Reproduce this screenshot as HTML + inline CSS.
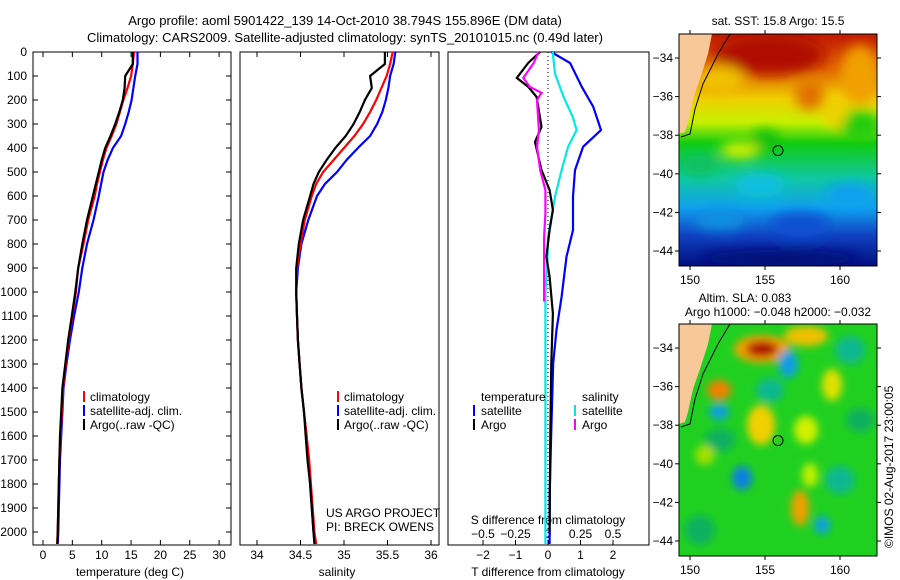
<!DOCTYPE html>
<html><head><meta charset="utf-8"><style>
body{margin:0;background:#fff;}
svg{display:block;font-family:"Liberation Sans",sans-serif;font-size:12px;}
</style></head><body>
<svg id="fig" width="900" height="580" viewBox="0 0 900 580">
<defs>
<filter id="bl" x="-50%" y="-50%" width="200%" height="200%"><feGaussianBlur stdDeviation="6"/></filter>
<filter id="bl2" x="-50%" y="-50%" width="200%" height="200%"><feGaussianBlur stdDeviation="4"/></filter>
<clipPath id="c1"><rect x="679" y="34" width="198" height="232"/></clipPath>
<clipPath id="c2"><rect x="679" y="324" width="198" height="232"/></clipPath>
<linearGradient id="sstg" x1="0" y1="0" x2="0" y2="1">
<stop offset="0" stop-color="#c01800"/><stop offset="0.15" stop-color="#e06000"/><stop offset="0.28" stop-color="#f0d000"/><stop offset="0.38" stop-color="#c8f000"/><stop offset="0.47" stop-color="#10cc10"/><stop offset="0.62" stop-color="#10c8a0"/><stop offset="0.75" stop-color="#10a0f0"/><stop offset="0.87" stop-color="#1040c0"/><stop offset="1" stop-color="#001080"/>
</linearGradient>
</defs>
<text x="345" y="25" text-anchor="middle" font-size="13">Argo profile: aoml 5901422_139 14-Oct-2010 38.794S 155.896E (DM data)</text>
<text x="345" y="42" text-anchor="middle" font-size="13">Climatology: CARS2009. Satellite-adjusted climatology: synTS_20101015.nc (0.49d later)</text>
<g id="p1"></g>
<g id="p2"></g>
<g id="p3"></g>
<g id="m1"></g>
<g id="m2"></g>
</svg>
<script>
const depths=[0,50,100,150,200,250,300,350,400,450,500,550,600,700,800,900,1000,1100,1200,1300,1400,1500,1600,1700,1800,1900,2000,2050];
const tempClim=[15.5,15.3,15.0,14.4,13.7,13.1,12.5,11.7,10.8,10.2,9.7,9.2,8.8,7.7,6.9,6.0,5.6,5.0,4.4,3.9,3.4,3.2,3.0,2.8,2.7,2.6,2.5,2.4];
const tempSat=[16.1,16.1,15.7,15.4,15.1,14.6,14.0,13.3,11.9,11.0,10.3,9.9,9.5,8.6,7.5,6.7,6.1,5.3,4.6,4.0,3.5,3.3,3.1,2.9,2.8,2.7,2.6,2.5];
const tempArgo=[15.3,15.3,14.0,13.9,13.6,13.0,12.3,11.5,10.6,10.0,9.5,9.0,8.5,7.5,6.7,6.0,5.5,4.9,4.3,3.8,3.3,3.1,2.9,2.8,2.7,2.6,2.5,2.45];
const salClim=[35.56,35.53,35.49,35.43,35.37,35.3,35.22,35.12,35.0,34.88,34.76,34.68,34.63,34.55,34.5,34.46,34.45,34.46,34.47,34.49,34.51,34.54,34.57,34.6,34.62,34.64,34.66,34.68];
const salSat=[35.59,35.57,35.53,35.51,35.48,35.44,35.38,35.3,35.16,35.03,34.92,34.78,34.69,34.59,34.51,34.47,34.45,34.46,34.47,34.49,34.51,34.54,34.57,34.59,34.61,34.63,34.65,34.67];
const salArgo=[35.47,35.47,35.3,35.32,35.24,35.18,35.11,35.02,34.9,34.8,34.71,34.65,34.61,34.53,34.48,34.45,34.45,34.46,34.47,34.49,34.51,34.54,34.56,34.58,34.61,34.63,34.65,34.66];
const dTSatDepth=[0,46,145,228,325,395,492,603,742,853,1020,1158,1297,1575,1854,2050];
const dTSat=[0.1,0.68,1.04,1.39,1.63,1.08,0.83,0.77,0.77,0.57,0.42,0.26,0.16,0.1,0.05,0.05];
const dTArgoDepth=[0,46,108,145,187,312,375,492,575,658,742,853,937,1090,1297,1600,2000];
const dTArgo=[-0.25,-0.61,-0.96,-0.61,-0.35,-0.2,-0.4,-0.2,0.05,0.15,0.05,-0.05,0.05,0.15,0.1,0.07,0.05];
const dSSatDepth=[0,90,187,270,325,395,492,603,770,880,1000,1500,2050];
const dSSat=[0.036,0.054,0.12,0.19,0.22,0.155,0.105,0.054,0,-0.005,-0.02,-0.02,-0.02];
const dSArgoDepth=[0,46,108,145,170,200,325,395,492,575,672,770,978,1040];
const dSArgo=[-0.074,-0.11,-0.19,-0.14,-0.05,-0.085,-0.07,-0.085,-0.06,-0.02,-0.02,-0.03,-0.03,-0.03];
const depthTicks=[0,100,200,300,400,500,600,700,800,900,1000,1100,1200,1300,1400,1500,1600,1700,1800,1900,2000];
const tempTicks=[0,5,10,15,20,25,30];
const salTicks=[34,34.5,35,35.5,36];
const dTTicks=[-2,-1,0,1,2];
const dSTicks=[-0.5,-0.25,0,0.25,0.5];
const dSTickLabels=["\u22120.5","\u22120.25","0","0.25","0.5"];

const NS='http://www.w3.org/2000/svg';
function mk(tag,attrs,parent,txt){const e=document.createElementNS(NS,tag);for(const k in attrs)e.setAttribute(k,attrs[k]);if(txt!==undefined)e.textContent=txt;parent.appendChild(e);return e;}
const Y=d=>52+d*0.24;
const TOP=52,BOT=545;
const xT=t=>43+5.87*t;
const xS=s=>257+87*(s-34);
const xdT=t=>548+32.5*t;
const xdS=s=>548+130*s;
function line(g,xs,ds,fx,col,name,w){
  const pts=xs.map((v,i)=>fx(v).toFixed(1)+','+Y(ds[i]).toFixed(1)).join(' ');
  const p=mk('polyline',{points:pts,fill:'none',stroke:col,'stroke-width':w||2.2},g);
  
  
}
function frame(g,x0,x1,name){
  const r=mk('rect',{x:x0,y:TOP,width:x1-x0,height:BOT-TOP,fill:'none',stroke:'#000','stroke-width':1},g);
  
  
}
const p1=document.getElementById('p1');
frame(p1,33,231,'temperature-plot-frame');
depthTicks.forEach(d=>{
  mk('line',{x1:33,x2:38,y1:Y(d),y2:Y(d),stroke:'#000'},p1);
  mk('line',{x1:226,x2:231,y1:Y(d),y2:Y(d),stroke:'#000'},p1);
  const t=mk('text',{x:27,y:Y(d)+4,'text-anchor':'end'},p1,String(d));
  
  
});
tempTicks.forEach(v=>{
  mk('line',{x1:xT(v),x2:xT(v),y1:BOT,y2:BOT-5,stroke:'#000'},p1);
  mk('line',{x1:xT(v),x2:xT(v),y1:TOP,y2:TOP+5,stroke:'#000'},p1);
  const t=mk('text',{x:xT(v),y:559,'text-anchor':'middle'},p1,String(v));
  
  
});
mk('text',{x:130,y:576,'text-anchor':'middle',},p1,'temperature (deg C)');
line(p1,tempSat,depths,xT,'#0000ff','temperature-satellite-line');
line(p1,tempClim,depths,xT,'#ff0000','temperature-climatology-line');
line(p1,tempArgo,depths,xT,'#000','temperature-argo-line');
function legend(g,x,y){
  [['#ff0000','climatology'],['#0000ff','satellite-adj. clim.'],['#000','Argo(..raw -QC)']].forEach((l,i)=>{
    mk('rect',{x:x,y:y+i*14-10,width:2,height:11,fill:l[0]},g);
    const t=mk('text',{x:x+7,y:y+i*14},g,l[1]);
    
    
  });
}
legend(p1,83,401);
const p2=document.getElementById('p2');
frame(p2,240,439,'salinity-plot-frame');
salTicks.forEach(v=>{
  mk('line',{x1:xS(v),x2:xS(v),y1:BOT,y2:BOT-5,stroke:'#000'},p2);
  mk('line',{x1:xS(v),x2:xS(v),y1:TOP,y2:TOP+5,stroke:'#000'},p2);
  const t=mk('text',{x:xS(v),y:559,'text-anchor':'middle'},p2,String(v));
  
  
});
mk('text',{x:337,y:576,'text-anchor':'middle',},p2,'salinity');
line(p2,salSat,depths,xS,'#0000ff','salinity-satellite-line');
line(p2,salClim,depths,xS,'#ff0000','salinity-climatology-line');
line(p2,salArgo,depths,xS,'#000','salinity-argo-line');
legend(p2,337,401);
mk('text',{x:326,y:517,},p2,'US ARGO PROJECT');
mk('text',{x:326,y:531,},p2,'PI: BRECK OWENS');
const p3=document.getElementById('p3');
frame(p3,448,649,'difference-plot-frame');
mk('line',{x1:548,x2:548,y1:TOP,y2:BOT,stroke:'#000','stroke-dasharray':'1,3'},p3);
dTTicks.forEach(v=>{
  mk('line',{x1:xdT(v),x2:xdT(v),y1:BOT,y2:BOT-5,stroke:'#000'},p3);
  const t=mk('text',{x:xdT(v),y:559,'text-anchor':'middle'},p3,String(v).replace('-','\u2212'));
  
  
});
dSTicks.forEach((v,i)=>{
  const t=mk('text',{x:xdS(v),y:538,'text-anchor':'middle'},p3,dSTickLabels[i]);
  
  
});
mk('text',{x:548,y:524,'text-anchor':'middle',},p3,'S difference from climatology');
mk('text',{x:548,y:576,'text-anchor':'middle',},p3,'T difference from climatology');
line(p3,dTSat,dTSatDepth,xdT,'#0000ff','t-diff-satellite-line');
line(p3,dSSat,dSSatDepth,xdS,'#00e8e8','s-diff-satellite-line');
line(p3,dTArgo,dTArgoDepth,xdT,'#000','t-diff-argo-line');
line(p3,dSArgo,dSArgoDepth,xdS,'#ff00ff','s-diff-argo-line');
mk('text',{x:481,y:401},p3,'temperature');
mk('text',{x:582,y:401},p3,'salinity');
[['#0000ff','satellite',473,415],['#000','Argo',473,429],['#00e8e8','satellite',574,415],['#ff00ff','Argo',574,429]].forEach(l=>{
  mk('rect',{x:l[2],y:l[3]-10,width:2,height:11,fill:l[0]},p3);
  const t=mk('text',{x:l[2]+8,y:l[3]},p3,l[1]);
  
  
});
function mapAxes(g,y0){
  mk('rect',{x:679,y:y0,width:198,height:232,fill:'none',stroke:'#000'},g);
  [150,155,160].forEach(l=>{const x=690+15*(l-150);
    mk('line',{x1:x,x2:x,y1:y0,y2:y0-4,stroke:'#000'},g);
    mk('line',{x1:x,x2:x,y1:y0+232,y2:y0+236,stroke:'#000'},g);
    mk('text',{x:x,y:y0+250,'text-anchor':'middle'},g,String(l));});
  [-34,-36,-38,-40,-42,-44].forEach(l=>{const y=y0+24+19.3*(-34-l);
    mk('line',{x1:679,x2:675,y1:y,y2:y,stroke:'#000'},g);
    mk('line',{x1:877,x2:881,y1:y,y2:y,stroke:'#000'},g);
    mk('text',{x:673,y:y+4,'text-anchor':'end'},g,'\u2212'+(-l));});
  mk('circle',{cx:778,cy:y0+24+19.3*4.794,r:5,fill:'none',stroke:'#000'},g);
}
function land(g,y0){
  mk('path',{d:`M679 ${y0} L712 ${y0} L708 ${y0+20} L700 ${y0+45} L693 ${y0+65} L688 ${y0+88} L685 ${y0+98} L679 ${y0+100} Z`,fill:'#f8c898'},g);
  mk('path',{d:`M730 ${y0} L718 ${y0+20} L703 ${y0+50} L695 ${y0+75} L690 ${y0+100} L681 ${y0+103}`,fill:'none',stroke:'#000'},g);
}
const m1=document.getElementById('m1');
const g1=mk('g',{'clip-path':'url(#c1)'},m1);
mk('rect',{x:679,y:34,width:198,height:232,fill:'url(#sstg)'},g1);
const b1=mk('g',{filter:'url(#bl)'},g1);
[[770,55,55,20,'#b01000'],[810,95,15,15,'#e07000'],[860,75,20,30,'#f0a000'],[720,80,25,15,'#f0c000'],[860,125,22,15,'#20cc10'],[835,110,12,18,'#f0d000'],[740,150,20,8,'#e0f000'],[765,140,14,10,'#10c010'],[760,185,25,12,'#10c0e0'],[700,165,18,10,'#10c060'],[850,195,25,12,'#10a0f0'],[800,225,30,12,'#1050d0'],[720,220,25,10,'#1090e0'],[780,258,80,8,'#001078']].forEach(e=>mk('ellipse',{cx:e[0],cy:e[1],rx:e[2],ry:e[3],fill:e[4]},b1));
land(g1,34);
mapAxes(m1,34);
mk('text',{x:778,y:25,'text-anchor':'middle',},m1,'sat. SST: 15.8 Argo: 15.5');
const m2=document.getElementById('m2');
const g2=mk('g',{'clip-path':'url(#c2)'},m2);
mk('rect',{x:679,y:324,width:198,height:232,fill:'#20d020'},g2);
const b2=mk('g',{filter:'url(#bl2)'},g2);
[[720,440,15,12,'#10b060'],[850,350,15,14,'#10b890'],[860,420,14,12,'#10b060'],[770,390,14,12,'#10b890'],[700,530,15,15,'#10b060'],[840,480,15,14,'#10b890'],[762,349,28,14,'#f0a000'],[762,349,16,8,'#b01000'],[806,336,22,10,'#f0c000'],[788,364,10,14,'#10a0e0'],[719,390,12,10,'#f08000'],[832,385,10,16,'#e0e000'],[719,412,10,8,'#10a0e0'],[761,425,14,20,'#f0d000'],[806,430,12,14,'#d0f000'],[742,478,10,12,'#1080e0'],[810,475,8,12,'#c0f000'],[800,508,9,18,'#f0a000'],[822,525,8,9,'#10a0e0'],[705,455,10,10,'#a0e000']].forEach(e=>mk('ellipse',{cx:e[0],cy:e[1],rx:e[2],ry:e[3],fill:e[4]},b2));
land(g2,324);
mapAxes(m2,324);
mk('text',{x:745,y:302,'text-anchor':'middle',},m2,'Altim. SLA: 0.083');
mk('text',{x:778,y:316,'text-anchor':'middle',},m2,'Argo h1000: \u22120.048 h2000: \u22120.032');
mk('text',{x:0,y:0,transform:'translate(893,548) rotate(-90)',},m2,'\u00a9IMOS 02-Aug-2017 23:00:05');
</script>
</body></html>
